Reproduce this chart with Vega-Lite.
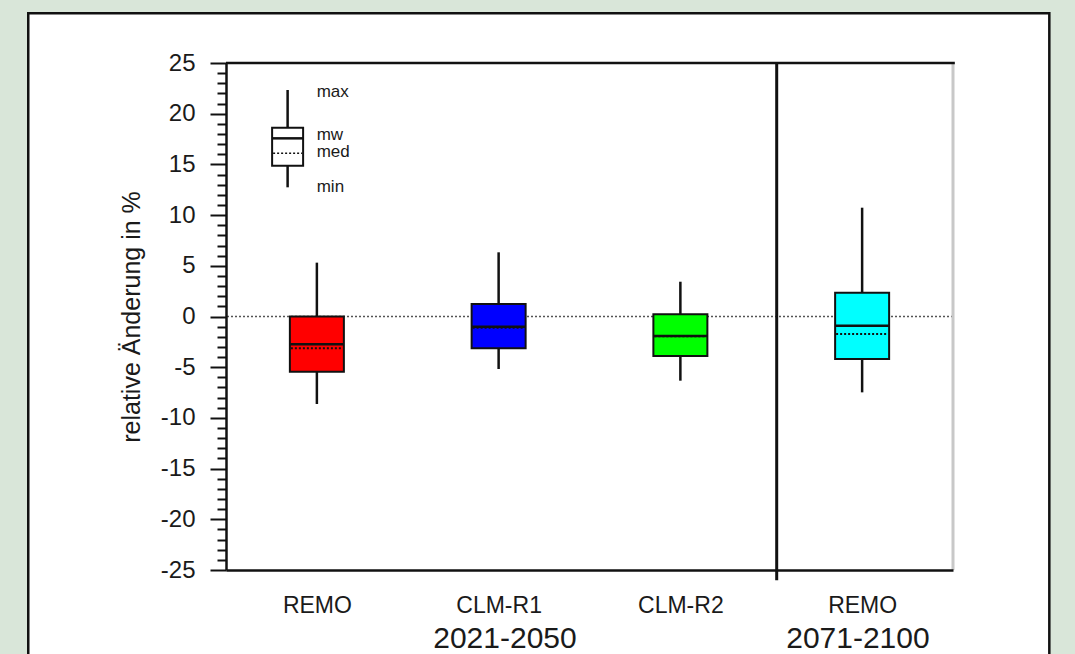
{
  "$schema": "https://vega.github.io/schema/vega-lite/v6.json",
  "width": 727,
  "height": 507,
  "autosize": {"type": "none"},
  "padding": {"left": 226, "top": 63, "right": 122, "bottom": 84},
  "background": "#d9e6d9",
  "config": {"view": {"stroke": null}, "font": "Liberation Sans"},
  "datasets": {
    "key": [{"min": 12.74, "lower": 14.87, "median": 16.09, "mean": 17.57, "upper": 18.62, "max": 22.34}],
    "boxes": [
      {"id": "REMO 2021-2050", "model": "REMO", "pos": 1, "min": -8.63, "lower": -5.44, "median": -3.14, "mean": -2.74, "upper": 0.0, "max": 5.31},
      {"id": "CLM-R1 2021-2050", "model": "CLM-R1", "pos": 2, "min": -5.18, "lower": -3.14, "median": -1.1, "mean": -1.01, "upper": 1.23, "max": 6.33},
      {"id": "CLM-R2 2021-2050", "model": "CLM-R2", "pos": 3, "min": -6.33, "lower": -3.9, "median": -1.95, "mean": -1.92, "upper": 0.22, "max": 3.43},
      {"id": "REMO 2071-2100", "model": "REMO", "pos": 4, "min": -7.48, "lower": -4.19, "median": -1.73, "mean": -0.91, "upper": 2.35, "max": 10.73}
    ],
    "keyLabels": [
      {"label": "max", "v": 21.68},
      {"label": "mw", "v": 17.41},
      {"label": "med", "v": 15.73},
      {"label": "min", "v": 12.28}
    ],
    "periods": [
      {"period": "2021-2050", "pos": 2.035},
      {"period": "2071-2100", "pos": 3.977}
    ]
  },
  "data": {"name": "key"},
  "resolve": {"axis": {"x": "independent", "y": "independent"}},
  "layer": [
    {
      "mark": {"type": "rect", "fill": "#ffffff", "stroke": "#111111", "strokeWidth": 2.5},
      "encoding": {
        "x": {"datum": -0.588, "type": "quantitative", "scale": {"domain": [0.5, 4.5], "nice": false, "zero": false}, "axis": null},
        "x2": {"datum": 5.03},
        "y": {"datum": 29.9, "type": "quantitative", "scale": {"domain": [-25, 25], "nice": false, "zero": false}, "axis": null},
        "y2": {"datum": -40}
      }
    },
    {
      "mark": {"type": "rule", "color": "#555555", "strokeDash": [2, 2], "strokeWidth": 1.5},
      "encoding": {
        "y": {"datum": 0, "type": "quantitative", "scale": {"domain": [-25, 25], "nice": false, "zero": false}, "axis": null}
      }
    },
    {
      "mark": {"type": "rule", "color": "#c8c8c8", "strokeWidth": 3},
      "encoding": {
        "x": {"datum": 4.5, "type": "quantitative", "scale": {"domain": [0.5, 4.5], "nice": false, "zero": false}, "axis": null},
        "y": {"datum": 25, "type": "quantitative", "scale": {"domain": [-25, 25], "nice": false, "zero": false}, "axis": null},
        "y2": {"datum": -25}
      }
    },
    {
      "mark": {"type": "rule", "color": "#111111", "strokeWidth": 2.5},
      "encoding": {
        "x": {"datum": 0.5, "type": "quantitative", "scale": {"domain": [0.5, 4.5], "nice": false, "zero": false}, "axis": null},
        "x2": {"datum": 4.51},
        "y": {"datum": 25, "type": "quantitative", "scale": {"domain": [-25, 25], "nice": false, "zero": false}, "axis": null}
      }
    },
    {
      "mark": {"type": "rule", "color": "#111111", "strokeWidth": 3},
      "encoding": {
        "x": {"datum": 3.53, "type": "quantitative", "scale": {"domain": [0.5, 4.5], "nice": false, "zero": false}, "axis": null},
        "y": {"datum": 25, "type": "quantitative", "scale": {"domain": [-25, 25], "nice": false, "zero": false}, "axis": null},
        "y2": {"datum": -26}
      }
    },
    {
      "data": {"name": "boxes"},
      "mark": {"type": "rule", "color": "#111111", "strokeWidth": 2.5},
      "encoding": {
        "x": {"field": "pos", "type": "quantitative", "scale": {"domain": [0.5, 4.5], "nice": false, "zero": false}, "axis": null},
        "y": {"field": "min", "type": "quantitative", "scale": {"domain": [-25, 25], "nice": false, "zero": false}, "axis": null},
        "y2": {"field": "max"}
      }
    },
    {
      "data": {"name": "boxes"},
      "mark": {"type": "rect", "stroke": "#111111", "strokeWidth": 2, "xOffset": -27, "x2Offset": 27},
      "encoding": {
        "x": {
          "field": "pos", "type": "quantitative",
          "scale": {"domain": [0.5, 4.5], "nice": false, "zero": false},
          "axis": {
            "orient": "bottom", "values": [1, 2, 3, 4],
            "labelExpr": "datum.value == 1 ? 'REMO' : datum.value == 2 ? 'CLM-R1' : datum.value == 3 ? 'CLM-R2' : 'REMO'",
            "ticks": false, "domainColor": "#111111", "domainWidth": 2.5,
            "labelFont": "Liberation Sans", "labelFontSize": 23, "labelColor": "#1a1a1a",
            "labelBaseline": "alphabetic", "labelPadding": 42, "labelOverlap": false,
            "title": null, "grid": false, "zindex": 1
          }
        },
        "x2": {"field": "pos"},
        "y": {
          "field": "lower", "type": "quantitative",
          "scale": {"domain": [-25, 25], "nice": false, "zero": false},
          "axis": {
            "orient": "left",
            "values": [-25,-24,-23,-22,-21,-20,-19,-18,-17,-16,-15,-14,-13,-12,-11,-10,-9,-8,-7,-6,-5,-4,-3,-2,-1,0,1,2,3,4,5,6,7,8,9,10,11,12,13,14,15,16,17,18,19,20,21,22,23,24,25],
            "labelExpr": "datum.value % 5 == 0 ? ('' + datum.value) : ''",
            "labelOverlap": false,
            "tickSize": 16,
            "tickDash": {"condition": {"test": "datum.value % 5 == 0", "value": [30, 1]}, "value": [9, 30]},
            "tickWidth": 2, "tickColor": "#111111",
            "domainColor": "#111111", "domainWidth": 2.5,
            "labelFont": "Liberation Sans", "labelFontSize": 24, "labelColor": "#1a1a1a", "labelPadding": 15,
            "title": "relative Änderung in %", "titleFont": "Liberation Sans", "titleFontSize": 25,
            "titleFontWeight": "normal", "titleColor": "#1a1a1a", "titlePadding": 16,
            "grid": false, "zindex": 1
          }
        },
        "y2": {"field": "upper"},
        "color": {
          "field": "id", "type": "nominal",
          "scale": {"domain": ["REMO 2021-2050", "CLM-R1 2021-2050", "CLM-R2 2021-2050", "REMO 2071-2100"], "range": ["#ff0000", "#0000ff", "#00ff00", "#00ffff"]},
          "legend": null
        }
      }
    },
    {
      "data": {"name": "boxes"},
      "mark": {"type": "rule", "color": "#111111", "strokeWidth": 2.5, "xOffset": -27, "x2Offset": 27},
      "encoding": {
        "x": {"field": "pos", "type": "quantitative", "scale": {"domain": [0.5, 4.5], "nice": false, "zero": false}, "axis": null},
        "x2": {"field": "pos"},
        "y": {"field": "mean", "type": "quantitative", "scale": {"domain": [-25, 25], "nice": false, "zero": false}, "axis": null}
      }
    },
    {
      "data": {"name": "boxes"},
      "mark": {"type": "rule", "color": "#111111", "strokeWidth": 2, "strokeDash": [2, 2], "xOffset": -26, "x2Offset": 26},
      "encoding": {
        "x": {"field": "pos", "type": "quantitative", "scale": {"domain": [0.5, 4.5], "nice": false, "zero": false}, "axis": null},
        "x2": {"field": "pos"},
        "y": {"field": "median", "type": "quantitative", "scale": {"domain": [-25, 25], "nice": false, "zero": false}, "axis": null}
      }
    },
    {
      "mark": {"type": "rule", "color": "#111111", "strokeWidth": 2.5},
      "encoding": {
        "x": {"datum": 0.839, "type": "quantitative", "scale": {"domain": [0.5, 4.5], "nice": false, "zero": false}, "axis": null},
        "y": {"field": "min", "type": "quantitative", "scale": {"domain": [-25, 25], "nice": false, "zero": false}, "axis": null},
        "y2": {"field": "max"}
      }
    },
    {
      "mark": {"type": "rect", "fill": "#ffffff", "stroke": "#111111", "strokeWidth": 2, "xOffset": -15.5, "x2Offset": 15.5},
      "encoding": {
        "x": {"datum": 0.839, "type": "quantitative", "scale": {"domain": [0.5, 4.5], "nice": false, "zero": false}, "axis": null},
        "x2": {"datum": 0.839},
        "y": {"field": "lower", "type": "quantitative", "scale": {"domain": [-25, 25], "nice": false, "zero": false}, "axis": null},
        "y2": {"field": "upper"}
      }
    },
    {
      "mark": {"type": "rule", "color": "#111111", "strokeWidth": 2.5, "xOffset": -15.5, "x2Offset": 15.5},
      "encoding": {
        "x": {"datum": 0.839, "type": "quantitative", "scale": {"domain": [0.5, 4.5], "nice": false, "zero": false}, "axis": null},
        "x2": {"datum": 0.839},
        "y": {"field": "mean", "type": "quantitative", "scale": {"domain": [-25, 25], "nice": false, "zero": false}, "axis": null}
      }
    },
    {
      "mark": {"type": "rule", "color": "#111111", "strokeWidth": 1.5, "strokeDash": [2, 2], "xOffset": -14.5, "x2Offset": 14.5},
      "encoding": {
        "x": {"datum": 0.839, "type": "quantitative", "scale": {"domain": [0.5, 4.5], "nice": false, "zero": false}, "axis": null},
        "x2": {"datum": 0.839},
        "y": {"field": "median", "type": "quantitative", "scale": {"domain": [-25, 25], "nice": false, "zero": false}, "axis": null}
      }
    },
    {
      "data": {"name": "keyLabels"},
      "mark": {"type": "text", "font": "Liberation Sans", "fontSize": 17, "align": "left", "baseline": "alphabetic", "color": "#1a1a1a"},
      "encoding": {
        "x": {"datum": 0.999, "type": "quantitative", "scale": {"domain": [0.5, 4.5], "nice": false, "zero": false}, "axis": null},
        "y": {"field": "v", "type": "quantitative", "scale": {"domain": [-25, 25], "nice": false, "zero": false}, "axis": null},
        "text": {"field": "label"}
      }
    },
    {
      "data": {"name": "periods"},
      "mark": {"type": "text", "font": "Liberation Sans", "fontSize": 30, "align": "center", "baseline": "alphabetic", "color": "#1a1a1a"},
      "encoding": {
        "x": {"field": "pos", "type": "quantitative", "scale": {"domain": [0.5, 4.5], "nice": false, "zero": false}, "axis": null},
        "y": {"datum": -32.7, "type": "quantitative", "scale": {"domain": [-25, 25], "nice": false, "zero": false}, "axis": null},
        "text": {"field": "period"}
      }
    }
  ]
}
